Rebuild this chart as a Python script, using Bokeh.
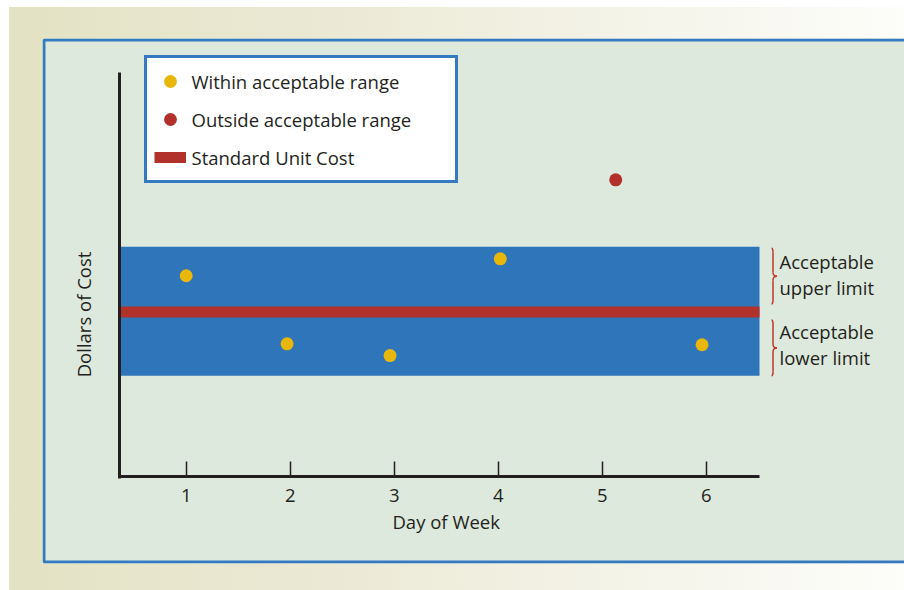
import math
from bokeh.plotting import figure
from bokeh.models import Range1d, FixedTicker, Legend, LegendItem, Label
from bokeh.embed import file_html
from bokeh.resources import INLINE

# ---------------- data ----------------
days = [1.0, 1.97, 2.96, 4.02, 5.13, 5.96]
costs = [12.45, 8.23, 7.50, 13.50, 18.40, 8.17]
standard_cost = 10.2
upper_limit = 14.25
lower_limit = 6.25
tick_days = [1, 2, 3, 4, 5, 6]
tick_labels = ["1", "2", "3", "4", "5", "6"]
legend_labels = ["Within acceptable range", "Outside acceptable range", "Standard Unit Cost"]
limit_labels = [["Acceptable", "upper limit"], ["Acceptable", "lower limit"]]

# ---------------- styling / layout constants ----------------
FONT = "Open Sans"
FS = "18.5px"
TXT = "#231f20"
GREEN = "#dde9dc"
BLUE_BORDER = "#3579c1"
BAND_BLUE = "#2e75b9"
RED = "#b2312a"
YELLOW = "#e8b70a"

PXX = 104.0     # pixels per day
PXY = 16.125    # pixels per cost unit
X0, X1 = -0.3817, 7.9067
Y0, Y1 = -5.395, 27.163
AX_X0, AX_X1 = 0.3587, 6.5125   # extent of the plotted axis region
AX_YTOP = 25.054

within_x = [d for d, c in zip(days, costs) if lower_limit <= c <= upper_limit]
within_y = [c for d, c in zip(days, costs) if lower_limit <= c <= upper_limit]
out_x = [d for d, c in zip(days, costs) if not (lower_limit <= c <= upper_limit)]
out_y = [c for d, c in zip(days, costs) if not (lower_limit <= c <= upper_limit)]

p = figure(width=904, height=590, x_range=Range1d(X0, X1), y_range=Range1d(Y0, Y1),
           output_backend="svg", toolbar_location=None,
           min_border_left=42, min_border_right=0, min_border_top=38, min_border_bottom=27,
           background_fill_color=GREEN, border_fill_alpha=0, outline_line_color=None)
p.title.visible = False
p.styles = {"background": "linear-gradient(to right, #e4e2c4 0%, #ebe9d4 35%, #f3f2e6 65%, #fdfdfa 100%) 9px 7px / 895px 583px no-repeat"}
p.grid.visible = False

# frame border (blue), open at the right where it runs off the page
bx = 1.5 / PXX
by = 1.5 / PXY
p.quad(left=[X0 + bx], right=[X1 + 1.0], bottom=[Y0 + by], top=[Y1 - by],
       fill_color=None, line_color=BLUE_BORDER, line_width=3)

# acceptable band
p.quad(left=[AX_X0], right=[AX_X1], bottom=[lower_limit], top=[upper_limit],
       fill_color=BAND_BLUE, line_color=None)

# standard unit cost line
std_r = p.line(x=[AX_X0, AX_X1], y=[standard_cost, standard_cost], line_width=11,
               line_color=RED, line_cap="butt")

r_in = p.scatter(within_x, within_y, size=13, fill_color=YELLOW, line_color=None)
r_out = p.scatter(out_x, out_y, size=13, fill_color=RED, line_color=None)

# axes
p.xaxis.fixed_location = 0
p.xaxis.bounds = (AX_X0 - 1.5 / PXX, AX_X1)
p.xaxis.ticker = FixedTicker(ticks=tick_days)
p.xaxis.major_label_overrides = {d: l for d, l in zip(tick_days, tick_labels)}
p.xaxis.axis_line_width = 3
p.xaxis.axis_line_color = TXT
p.xaxis.major_tick_in = 15
p.xaxis.major_tick_out = 0
p.xaxis.major_tick_line_width = 1.5
p.xaxis.major_tick_line_color = TXT
p.xaxis.minor_tick_line_color = None
p.xaxis.major_label_standoff = 12
p.xaxis.major_label_text_font = FONT
p.xaxis.major_label_text_font_size = FS
p.xaxis.major_label_text_color = TXT

p.yaxis.fixed_location = AX_X0
p.yaxis.bounds = (-1.5 / PXY, AX_YTOP)
p.yaxis.ticker = FixedTicker(ticks=[])
p.yaxis.axis_line_width = 3
p.yaxis.axis_line_color = TXT
p.yaxis.major_tick_line_color = None
p.yaxis.minor_tick_line_color = None
p.yaxis.major_label_text_font_size = "0px"

# axis titles
p.add_layout(Label(x=3.5, y=-2.82, text="Day of Week", text_font=FONT, text_font_size=FS,
                   text_color=TXT, text_align="center", text_baseline="middle"))
p.add_layout(Label(x=0.008, y=10.05, text="Dollars of Cost", text_font=FONT, text_font_size=FS,
                   text_color=TXT, text_align="center", text_baseline="middle",
                   angle=math.pi / 2))

# limit labels
label_x = 6.705
line_ys = [[13.34, 11.72], [9.0, 7.38]]
for lines, ys in zip(limit_labels, line_ys):
    for t, yy in zip(lines, ys):
        p.add_layout(Label(x=label_x, y=yy, text=t, text_font=FONT, text_font_size=FS,
                           text_color=TXT, text_align="left", text_baseline="middle"))

# braces
xl = 6.628
xc = xl + 1.5 / PXX
xr = xl + 5.5 / PXX
c = 4.0 / PXY
braces = [(upper_limit - 0.1, standard_cost + 0.5), (standard_cost - 0.5, lower_limit)]
qx0, qy0, qx1, qy1, qcx, qcy = [], [], [], [], [], []
sx0, sy0, sx1, sy1 = [], [], [], []
for top, bot in braces:
    mid = (top + bot) / 2
    qx0.append(xl); qy0.append(top); qcx.append(xc); qcy.append(top); qx1.append(xc); qy1.append(top - c)
    qx0.append(xl); qy0.append(bot); qcx.append(xc); qcy.append(bot); qx1.append(xc); qy1.append(bot + c)
    qx0.append(xc); qy0.append(mid + c); qcx.append(xc); qcy.append(mid); qx1.append(xr); qy1.append(mid)
    qx0.append(xc); qy0.append(mid - c); qcx.append(xc); qcy.append(mid); qx1.append(xr); qy1.append(mid)
    sx0 += [xc, xc]; sy0 += [top - c, mid - c]; sx1 += [xc, xc]; sy1 += [mid + c, bot + c]
p.quadratic(x0=qx0, y0=qy0, x1=qx1, y1=qy1, cx=qcx, cy=qcy, line_color="#c0392b", line_width=1.5)
p.segment(x0=sx0, y0=sy0, x1=sx1, y1=sy1, line_color="#c0392b", line_width=1.5)

# legend
legend = Legend(items=[LegendItem(label=legend_labels[0], renderers=[r_in]),
                       LegendItem(label=legend_labels[1], renderers=[r_out]),
                       LegendItem(label=legend_labels[2], renderers=[std_r])],
                location=(101.5, 380), orientation="vertical",
                glyph_width=32, glyph_height=32, label_standoff=6, label_width=256,
                padding=7, spacing=6, border_line_color=BLUE_BORDER, border_line_width=3,
                border_line_alpha=1.0,
                background_fill_color="white", background_fill_alpha=1.0,
                label_text_font=FONT, label_text_font_size=FS, label_text_color=TXT)
p.add_layout(legend, "center")

open("out.html", "w").write(file_html(p, INLINE))
